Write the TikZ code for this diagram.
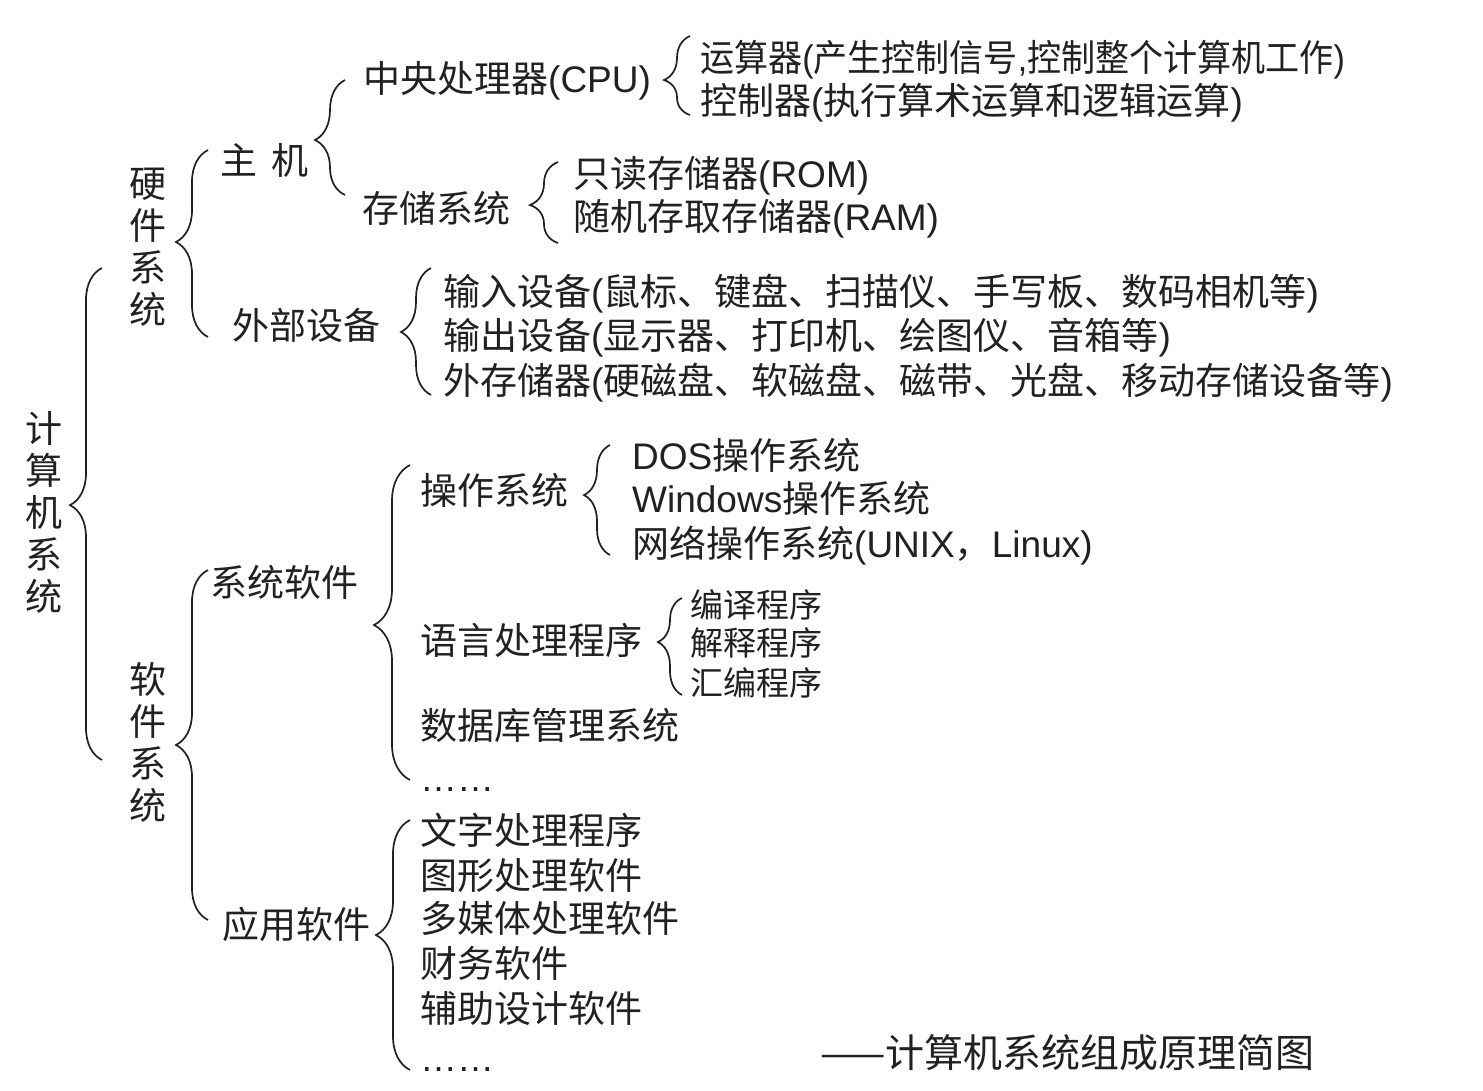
\documentclass[tikz,border=0pt]{standalone}
\usepackage{fontspec}
\setmainfont{Noto Sans CJK SC}
\newfontfamily\cjk{Noto Sans CJK SC}
\newfontfamily\lat{Liberation Sans}
\usepackage{tikz}
\usetikzlibrary{calc}
\usetikzlibrary{decorations.pathreplacing}
\usetikzlibrary{positioning}
\usepackage{xcolor}
\definecolor{ink}{rgb}{0.13,0.13,0.13}

\tikzset{
  txt/.style={anchor=west,inner sep=0pt,text=ink,font=\cjk\fontsize{37}{41}\selectfont,text height=32.6pt,text depth=4.4pt},
  smalltxt/.style={txt,font=\cjk\fontsize{33}{37}\selectfont,text height=29pt,text depth=4pt},
  vtxt/.style={inner sep=0pt,text=ink,align=center,font=\cjk\fontsize{37}{42}\selectfont},
  brc/.style={draw=ink,line width=1.7pt,decorate,decoration={brace,amplitude=#1}},
}

\begin{document}
\begin{tikzpicture}[x=1pt,y=-1pt]
  \useasboundingbox (0,0) rectangle (1483,1090);
  \node[vtxt] (pc) at (44,512) {计\\算\\机\\系\\统};
  \node[vtxt] (hw) at (148,247) {硬\\件\\系\\统};
  \node[vtxt] (sw) at (148,742) {软\\件\\系\\统};

  \node[txt] (host) at (220,160) {主\hspace{14pt}机};
  \node[txt] (cpu) at (363,78) {中央处理器{\lat (CPU)}};
  \node[txt] (alu) at (700,57) {\scalebox{0.92}[1]{运算器{\lat (}产生控制信号{\lat ,}控制整个计算机工作{\lat )}}};
  \node[txt] (ctl) at (700,100) {控制器{\lat (}执行算术运算和逻辑运算{\lat )}};
  \node[txt] (mem) at (362,208) {存储系统};
  \node[txt] (rom) at (573,173) {只读存储器{\lat (ROM)}};
  \node[txt] (ram) at (573,216) {随机存取存储器{\lat (RAM)}};
  \node[txt] (ext) at (232,325) {外部设备};
  \node[txt] (inp) at (443,291) {输入设备{\lat (}鼠标、键盘、扫描仪、手写板、数码相机等{\lat )}};
  \node[txt] (outp) at (443,335) {输出设备{\lat (}显示器、打印机、绘图仪、音箱等{\lat )}};
  \node[txt] (stor) at (443,380) {外存储器{\lat (}硬磁盘、软磁盘、磁带、光盘、移动存储设备等{\lat )}};

  \node[txt] (syssw) at (210,582) {系统软件};
  \node[txt] (os) at (420,490) {操作系统};
  \node[txt] (dos) at (632,455) {{\lat DOS}操作系统};
  \node[txt] (win) at (632,498) {{\lat Windows}操作系统};
  \node[txt] (net) at (632,543) {网络操作系统{\lat (UNIX}，{\lat Linux)}};
  \node[txt] (lang) at (420,640) {语言处理程序};
  \node[smalltxt] (comp) at (690,605) {编译程序};
  \node[smalltxt] (interp) at (690,643) {解释程序};
  \node[smalltxt] (asm) at (690,683) {汇编程序};
  \node[txt] (dbms) at (420,725) {数据库管理系统};
  \node[txt] (more1) at (420,777) {\lat ……};

  \node[txt] (appsw) at (222,924) {应用软件};
  \node[txt] (word) at (420,830) {文字处理程序};
  \node[txt] (graph) at (420,875) {图形处理软件};
  \node[txt] (media) at (420,918) {多媒体处理软件};
  \node[txt] (fin) at (420,963) {财务软件};
  \node[txt] (cad) at (420,1008) {辅助设计软件};
  \node[txt] (more2) at (420,1057) {\lat ……};
  \node[txt,font=\cjk\fontsize{39}{43}\selectfont] (title) at (820,1053) {——计算机系统组成原理简图};

  \draw[brc=32,decoration={aspect=0.518}] (102,760) -- (102,268);
  \draw[brc=32,decoration={aspect=0.508}] (208,337) -- (208,150);
  \draw[brc=30,decoration={aspect=0.478}] (345,195) -- (345,80);
  \draw[brc=26,decoration={aspect=0.443}] (690,115) -- (690,36);
  \draw[brc=28,decoration={aspect=0.469}] (558,243) -- (558,162);
  \draw[brc=30,decoration={aspect=0.496}] (431,395) -- (431,268);
  \draw[brc=32,decoration={aspect=0.5}] (208,920) -- (208,570);
  \draw[brc=36,decoration={aspect=0.492}] (410,780) -- (410,465);
  \draw[brc=26,decoration={aspect=0.545}] (610,555) -- (610,445);
  \draw[brc=24,decoration={aspect=0.546}] (682,695) -- (682,598);
  \draw[brc=34,decoration={aspect=0.54}] (410,1070) -- (410,820);
\end{tikzpicture}
\end{document}
